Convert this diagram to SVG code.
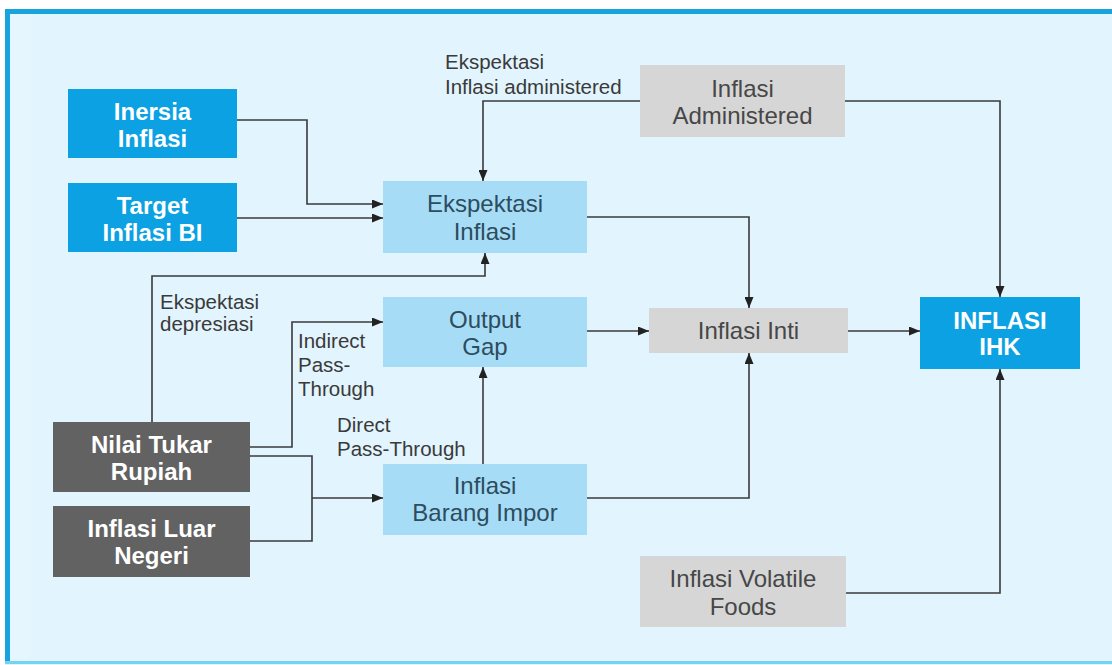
<svg xmlns="http://www.w3.org/2000/svg" width="1112" height="665" viewBox="0 0 1112 665">
  <style>
    .node-blue { fill: #0ba1e2; }
    .node-light { fill: #a7dcf6; }
    .node-gray { fill: #d6d6d6; }
    .node-dark { fill: #626262; }
    .t-white { font-family: "Liberation Sans", Arial, sans-serif; font-size: 24px; font-weight: bold; fill: #ffffff; text-anchor: middle; }
    .t-slate { font-family: "Liberation Sans", Arial, sans-serif; font-size: 24px; fill: #2d4c5e; text-anchor: middle; }
    .t-gray { font-family: "Liberation Sans", Arial, sans-serif; font-size: 24px; fill: #474747; text-anchor: middle; }
    .label { font-family: "Liberation Sans", Arial, sans-serif; font-size: 20.5px; fill: #3a3a3a; }
    .conn { fill: none; stroke: #3a3a3a; stroke-width: 1.6; }
  </style>
  <defs>
    <marker id="arrow" markerUnits="userSpaceOnUse" markerWidth="11" markerHeight="9" refX="11" refY="4.5" orient="auto">
      <path d="M0,0 L11,4.5 L0,9 z" fill="#222"/>
    </marker>
  </defs>

  <!-- panel and frame -->
  <rect x="0" y="0" width="1112" height="665" fill="#ffffff"/>
  <rect x="5" y="9" width="1107" height="656" fill="#e2f4fd"/>
  <rect x="10" y="14" width="20" height="645" fill="#e6f6fe"/>
  <rect x="5" y="9" width="1107" height="5" fill="#17a3dd"/>
  <rect x="5" y="9" width="5" height="653" fill="#17a3dd"/>
  <rect x="5" y="661" width="1107" height="3" fill="#74d3f2"/>

  <!-- connectors -->
  <g id="connectors">
    <path class="conn" d="M237,120 H307 V204 H383" marker-end="url(#arrow)"/>
    <path class="conn" d="M237,218 H383" marker-end="url(#arrow)"/>
    <path class="conn" d="M640,101 H483 V181" marker-end="url(#arrow)"/>
    <path class="conn" d="M845,101 H1000 V297" marker-end="url(#arrow)"/>
    <path class="conn" d="M587,217 H749 V308" marker-end="url(#arrow)"/>
    <path class="conn" d="M152,422 V276 H485 V253" marker-end="url(#arrow)"/>
    <path class="conn" d="M250,447 H292 V322 H383" marker-end="url(#arrow)"/>
    <path class="conn" d="M250,456 H312 V541 H250"/>
    <path class="conn" d="M312,498 H383" marker-end="url(#arrow)"/>
    <path class="conn" d="M483,464 V367" marker-end="url(#arrow)"/>
    <path class="conn" d="M587,331 H649" marker-end="url(#arrow)"/>
    <path class="conn" d="M587,498 H749 V353" marker-end="url(#arrow)"/>
    <path class="conn" d="M848,331 H920" marker-end="url(#arrow)"/>
    <path class="conn" d="M846,593 H1000 V369" marker-end="url(#arrow)"/>
  </g>

  <!-- connector labels -->
  <g id="labels">
    <text class="label" x="445" y="69">Ekspektasi</text>
    <text class="label" x="445" y="94">Inflasi administered</text>
    <text class="label" x="160" y="309">Ekspektasi</text>
    <text class="label" x="160" y="331">depresiasi</text>
    <text class="label" x="298" y="348">Indirect</text>
    <text class="label" x="298" y="372">Pass-</text>
    <text class="label" x="298" y="396">Through</text>
    <text class="label" x="337" y="432">Direct</text>
    <text class="label" x="337" y="456">Pass-Through</text>
  </g>

  <!-- nodes -->
  <g id="inersia-inflasi">
    <rect class="node-blue" x="68" y="89" width="169" height="69"/>
    <text class="t-white" x="152.5" y="119.5">Inersia</text>
    <text class="t-white" x="152.5" y="146.5">Inflasi</text>
  </g>
  <g id="target-inflasi-bi">
    <rect class="node-blue" x="68" y="183" width="169" height="69"/>
    <text class="t-white" x="152.5" y="213.5">Target</text>
    <text class="t-white" x="152.5" y="240.5">Inflasi BI</text>
  </g>
  <g id="ekspektasi-inflasi">
    <rect class="node-light" x="383" y="181" width="204" height="72"/>
    <text class="t-slate" x="485" y="212">Ekspektasi</text>
    <text class="t-slate" x="485" y="240">Inflasi</text>
  </g>
  <g id="inflasi-administered">
    <rect class="node-gray" x="640" y="65" width="205" height="72"/>
    <text class="t-gray" x="742.5" y="97">Inflasi</text>
    <text class="t-gray" x="742.5" y="124">Administered</text>
  </g>
  <g id="output-gap">
    <rect class="node-light" x="383" y="297" width="204" height="70"/>
    <text class="t-slate" x="485" y="328">Output</text>
    <text class="t-slate" x="485" y="355">Gap</text>
  </g>
  <g id="inflasi-barang-impor">
    <rect class="node-light" x="383" y="464" width="204" height="71"/>
    <text class="t-slate" x="485" y="494">Inflasi</text>
    <text class="t-slate" x="485" y="521">Barang Impor</text>
  </g>
  <g id="inflasi-inti">
    <rect class="node-gray" x="649" y="308" width="199" height="45"/>
    <text class="t-gray" x="748.5" y="339">Inflasi Inti</text>
  </g>
  <g id="inflasi-ihk">
    <rect class="node-blue" x="920" y="297" width="160" height="72"/>
    <text class="t-white" x="1000" y="329">INFLASI</text>
    <text class="t-white" x="1000" y="355">IHK</text>
  </g>
  <g id="inflasi-volatile-foods">
    <rect class="node-gray" x="640" y="556" width="206" height="71"/>
    <text class="t-gray" x="743" y="587">Inflasi Volatile</text>
    <text class="t-gray" x="743" y="615">Foods</text>
  </g>
  <g id="nilai-tukar-rupiah">
    <rect class="node-dark" x="53" y="422" width="197" height="70"/>
    <text class="t-white" x="151.5" y="453">Nilai Tukar</text>
    <text class="t-white" x="151.5" y="480">Rupiah</text>
  </g>
  <g id="inflasi-luar-negeri">
    <rect class="node-dark" x="53" y="506" width="197" height="71"/>
    <text class="t-white" x="151.5" y="537">Inflasi Luar</text>
    <text class="t-white" x="151.5" y="564">Negeri</text>
  </g>
</svg>
